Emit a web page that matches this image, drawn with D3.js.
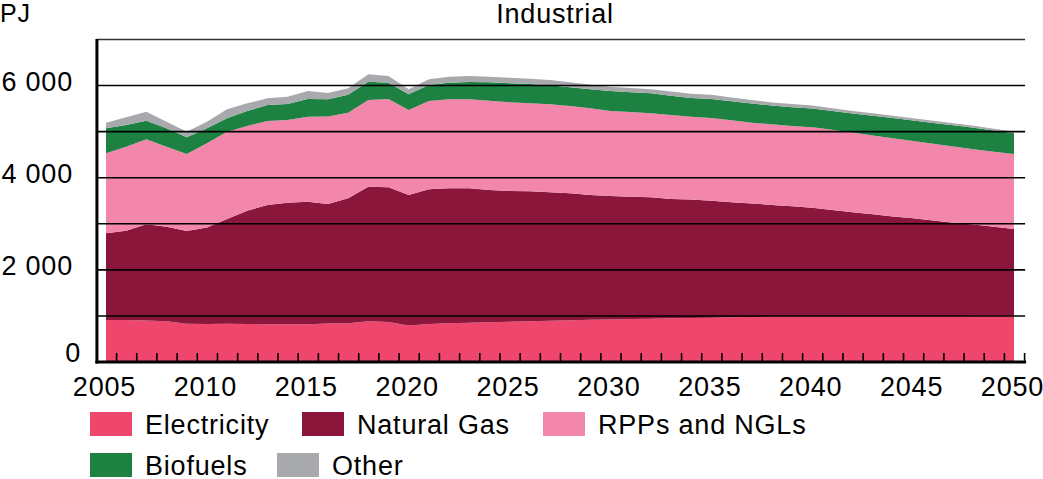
<!DOCTYPE html>
<html>
<head>
<meta charset="utf-8">
<script src="https://cdn.jsdelivr.net/npm/d3@7"></script>
<style>
  html, body { margin: 0; padding: 0; background: #fff; }
  svg { display: block; font-family: "Liberation Sans", Arial, Helvetica, sans-serif; }
  text { letter-spacing: 0.8px; }
</style>
</head>
<body>
<svg id="chart" width="1043" height="479"></svg>
<script>
// ---------------- data ----------------
const years = d3.range(2005, 2051);
const seriesNames = ["Electricity", "Natural Gas", "RPPs and NGLs", "Biofuels", "Other"];
const seriesColors = ["#EF466D", "#8A173B", "#F287AB", "#1C8141", "#A8A9AC"];

const electricity = [912, 910, 900, 885, 830, 825, 830, 825, 820, 820, 820, 835, 840, 885, 870, 790,
  825, 840, 853, 862, 872, 885, 895, 905, 915, 925, 933, 940, 948, 955, 962, 970, 978, 985, 990,
  993, 995, 997, 998, 999, 1000, 1000, 1001, 1002, 1003, 1004];
const naturalGas = [1881, 1940, 2089, 2052, 2013, 2095, 2274, 2460, 2588, 2638, 2660, 2595, 2713,
  2920, 2921, 2835, 2923, 2930, 2917, 2871, 2839, 2820, 2788, 2756, 2710, 2678, 2655, 2635, 2590,
  2570, 2538, 2500, 2462, 2425, 2390, 2357, 2305, 2253, 2207, 2161, 2120, 2070, 2019, 1983, 1934, 1883];
const rppsNgls = [1737, 1823, 1844, 1736, 1672, 1826, 1895, 1838, 1823, 1795, 1845, 1900, 1859,
  1882, 1918, 1845, 1917, 1932, 1932, 1939, 1926, 1910, 1911, 1896, 1882, 1845, 1839, 1823, 1823,
  1800, 1795, 1775, 1755, 1750, 1745, 1745, 1740, 1730, 1710, 1695, 1677, 1665, 1655, 1635, 1628, 1628];
const biofuels = [542, 471, 406, 399, 361, 326, 291, 325, 347, 347, 384, 372, 388, 397, 354, 340,
  348, 361, 376, 398, 412, 419, 411, 405, 411, 434, 427, 434, 419, 405, 415, 415, 415, 405, 405,
  410, 410, 415, 430, 440, 443, 455, 465, 465, 460, 449];
const other = [123, 167, 195, 145, 123, 145, 194, 167, 145, 160, 173, 138, 141, 161, 145, 108,
  123, 131, 130, 124, 123, 116, 116, 110, 100, 95, 92, 90, 90, 95, 90, 80, 75, 70, 68,
  62, 58, 55, 52, 50, 48, 46, 44, 42, 40, 36];

const yGridValues = [1000, 2000, 3000, 4000, 5000, 6000, 7000];
const yTickLabels = [0, 2000, 4000, 6000];
const xTickLabels = [2005, 2010, 2015, 2020, 2025, 2030, 2035, 2040, 2045, 2050];
const title = "Industrial";
const unitLabel = "PJ";

// ---------------- build ----------------
const seriesValues = [electricity, naturalGas, rppsNgls, biofuels, other];
const table = years.map((yr, i) => {
  const row = { year: yr };
  seriesNames.forEach((n, k) => row[n] = seriesValues[k][i]);
  return row;
});

const svg = d3.select("#chart");
const fontSize = 27;

const x = d3.scaleLinear().domain([2005, 2050]).range([106, 1014]);
const y = d3.scaleLinear().domain([0, 7000]).range([362, 39.5]);
const xLeft = x(2004.55), xRight = x(2050.55);

const stack = d3.stack().keys(seriesNames);
const stacked = stack(table);

const area = d3.area()
  .x(d => x(d.data.year))
  .y0(d => y(d[0]))
  .y1(d => y(d[1]));

svg.append("g").selectAll("path")
  .data(stacked)
  .join("path")
  .attr("d", area)
  .attr("fill", (d, i) => seriesColors[i]);

// gridlines
svg.append("g").selectAll("line")
  .data(yGridValues)
  .join("line")
  .attr("x1", xLeft).attr("x2", xRight)
  .attr("y1", d => y(d)).attr("y2", d => y(d))
  .attr("stroke", d => d === 7000 ? "#333" : "#000")
  .attr("stroke-width", 1.6);

// x axis with minor ticks between years
const xAxis = d3.axisBottom(x)
  .tickValues(d3.range(2005.5, 2051, 1))
  .tickSize(-9)
  .tickSizeOuter(0)
  .tickFormat("");
const gx = svg.append("g").attr("transform", `translate(0,${y(0)})`).call(xAxis);
gx.select(".domain").remove();
gx.selectAll(".tick line").attr("stroke", "#000").attr("stroke-width", 1.6);
svg.append("line")
  .attr("x1", xLeft - 1.5).attr("x2", xRight + 1)
  .attr("y1", y(0)).attr("y2", y(0))
  .attr("stroke", "#000").attr("stroke-width", 3);

// y axis line
svg.append("line")
  .attr("x1", xLeft).attr("x2", xLeft)
  .attr("y1", y(7000) - 0.5).attr("y2", y(0) + 1.5)
  .attr("stroke", "#000").attr("stroke-width", 3);

// y labels
svg.append("g").selectAll("text")
  .data(yTickLabels)
  .join("text")
  .attr("x", d => d === 0 ? 81 : 73)
  .attr("y", d => d === 0 ? y(d) - 9 : y(d) - 3.5)
  .attr("dominant-baseline", "central")
  .attr("text-anchor", "end")
  .attr("font-size", fontSize)
  .attr("fill", "#000")
  .text(d => d3.format(",")(d).replace(/,/g, " "));

// x labels
svg.append("g").selectAll("text")
  .data(xTickLabels)
  .join("text")
  .attr("x", d => x(d) - 1.5)
  .attr("y", 396)
  .attr("text-anchor", "middle")
  .attr("font-size", fontSize)
  .attr("fill", "#000")
  .text(d => d);

// title & unit
svg.append("text").attr("x", 555).attr("y", 22.5).attr("text-anchor", "middle")
  .attr("font-size", fontSize).text(title);
svg.append("text").attr("x", 0).attr("y", 22).attr("font-size", 25).text(unitLabel);

// legend
const legendPos = [[90, 412], [302, 412], [543, 412], [90, 453], [277, 453]];
const lg = svg.append("g").selectAll("g")
  .data(seriesNames)
  .join("g")
  .attr("transform", (d, i) => `translate(${legendPos[i][0]},${legendPos[i][1]})`);
lg.append("rect").attr("width", 42).attr("height", 24).attr("fill", (d, i) => seriesColors[i]);
lg.append("text").attr("x", 55).attr("y", 21.5).attr("font-size", fontSize).text(d => d);
</script>
</body>
</html>
